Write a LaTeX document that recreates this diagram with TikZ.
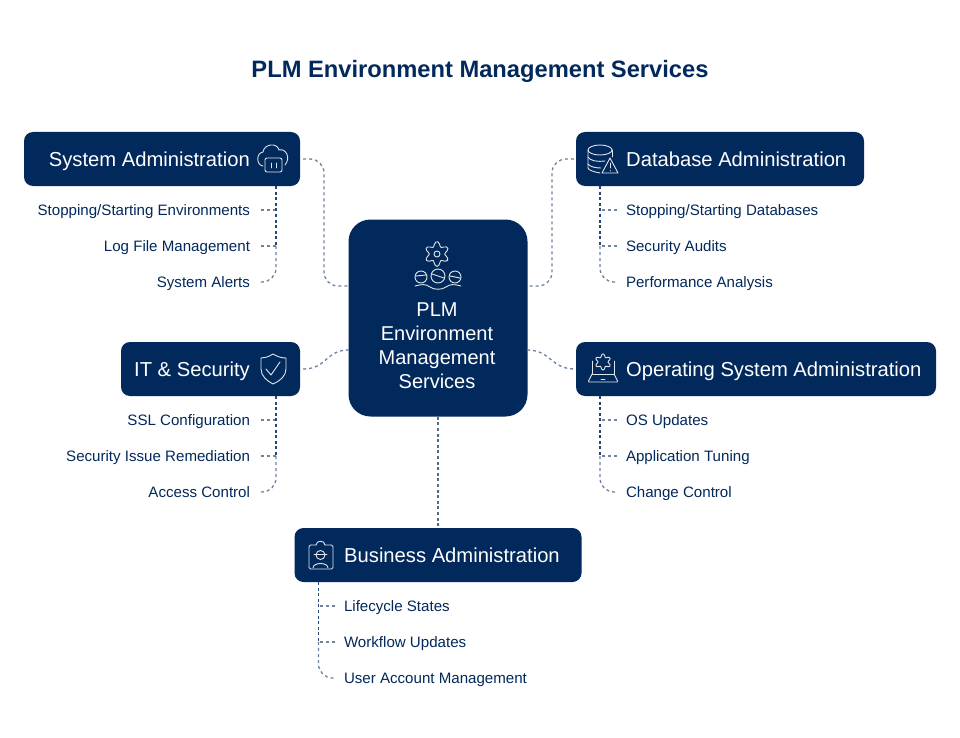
\documentclass[tikz,border=0pt]{standalone}
\usepackage{fontspec}
\setmainfont{Liberation Sans}
\usetikzlibrary{positioning}
\definecolor{navy}{HTML}{02295B}
\definecolor{linkgray}{HTML}{6F83A1}
\definecolor{linkdark}{HTML}{24467A}
\begin{document}
\begin{tikzpicture}[x=1pt, y=-1pt]
\tikzstyle{headbox} = [rectangle, rounded corners=9pt, fill=navy, minimum height=54pt, inner sep=0pt]
\tikzstyle{headlabel} = [text=white, inner sep=0pt, text height=15pt, text depth=0pt, font=\fontsize{20.2}{24}\selectfont]
\tikzstyle{leftitem} = [text=navy, inner xsep=0pt, inner ysep=0pt, outer xsep=10.5pt, outer ysep=0pt, text height=12.5pt, text depth=2.5pt, font=\fontsize{15.1}{18}\selectfont]
\tikzstyle{rightitem} = [leftitem, outer xsep=9pt]
\tikzstyle{link} = [linkgray, line width=1.3pt, dash pattern=on 3pt off 3pt]
\tikzstyle{linkbend} = [link, rounded corners=14pt]
\tikzstyle{drop} = [linkdark, line width=1.5pt, dash pattern=on 3pt off 2.6pt]
\tikzstyle{icon} = [white!88!navy, line width=0.9pt, line join=round, line cap=round]
\useasboundingbox[fill=white] (0,0) rectangle (960,738);
  \node[text=navy, font=\bfseries\fontsize{23.7}{30}\selectfont] (title) at (480,71) {PLM Environment Management Services};

  \node[headbox, minimum width=179pt, rounded corners=22pt, minimum height=197pt] (cntbox) at (438,318) {};
  \node[text=white, align=center, inner sep=0pt, font=\fontsize{20}{24}\selectfont] (cntlabel) at (437,346) {PLM\\Environment\\Management\\Services};
  \coordinate (cntsys) at (349,286);
  \coordinate (cntdb) at (527,286);
  \coordinate (cntit) at (349,350);
  \coordinate (cntos) at (527,350);

  \node[headbox, minimum width=276pt] (sysbox) at (162,159) {};
  \node[headlabel, anchor=east] (syslabel) at (250,159) {System Administration};
  \node[headbox, minimum width=288pt] (dbbox) at (720,159) {};
  \node[headlabel, anchor=west] (dblabel) at (626,159) {Database Administration};
  \node[headbox, minimum width=179pt] (itbox) at (210.5,369) {};
  \node[headlabel, anchor=east] (itlabel) at (250,369) {IT \& Security};
  \node[headbox, minimum width=360pt] (osbox) at (756,369) {};
  \node[headlabel, anchor=west] (oslabel) at (626,369) {Operating System Administration};
  \node[headbox, minimum width=287pt] (busbox) at (438,555) {};
  \node[headlabel, anchor=west] (buslabel) at (344,555) {Business Administration};

  \node[leftitem, anchor=east] (sysstop) at (260.5,210) {Stopping/Starting Environments};
  \node[leftitem, below left=21pt and 0pt of sysstop.south east] (syslog) {Log File Management};
  \node[leftitem, below left=21pt and 0pt of syslog.south east] (sysalert) {System Alerts};
  \node[leftitem, anchor=east] (itssl) at (260.5,420) {SSL Configuration};
  \node[leftitem, below left=21pt and 0pt of itssl.south east] (itissue) {Security Issue Remediation};
  \node[leftitem, below left=21pt and 0pt of itissue.south east] (itaccess) {Access Control};
  \node[rightitem, anchor=west] (dbstop) at (617,210) {Stopping/Starting Databases};
  \node[rightitem, below right=21pt and 0pt of dbstop.south west] (dbaudit) {Security Audits};
  \node[rightitem, below right=21pt and 0pt of dbaudit.south west] (dbperf) {Performance Analysis};
  \node[rightitem, anchor=west] (osupd) at (617,420) {OS Updates};
  \node[rightitem, below right=21pt and 0pt of osupd.south west] (ostune) {Application Tuning};
  \node[rightitem, below right=21pt and 0pt of ostune.south west] (oschange) {Change Control};
  \node[rightitem, anchor=west] (buslife) at (335,606) {Lifecycle States};
  \node[rightitem, below right=21pt and 0pt of buslife.south west] (busflow) {Workflow Updates};
  \node[rightitem, below right=21pt and 0pt of busflow.south west] (bususer) {User Account Management};

  \coordinate (sysbend) at (324,220);
  \coordinate (dbbend) at (552,220);
  \coordinate (sysdrop) at (276,186);
  \coordinate (dbdrop) at (600,186);
  \coordinate (itdrop) at (276,396);
  \coordinate (osdrop) at (600,396);
  \coordinate (busdrop) at (318.5,582);

  \draw[linkbend] ([xshift=3pt]sysbox.east) -| (sysbend) |- (cntsys);
  \draw[linkbend] ([xshift=-2pt]dbbox.west) -| (dbbend) |- (cntdb);
  \draw[link] ([xshift=3pt]itbox.east) .. controls +(24,0) and +(-24,0) .. (cntit);
  \draw[link] (cntos) .. controls +(24,0) and +(-24,0) .. ([xshift=-1pt]osbox.west);
  \draw[drop, linkgray!60!linkdark] (cntbox.south) -- (cntbox.south |- busbox.north);

  \draw[link] (sysstop.east) -- (sysdrop |- sysstop);
  \draw[link] (syslog.east) -- (sysdrop |- syslog);
  \draw[linkbend] (sysdrop |- syslog) |- (sysalert.east);
  \draw[drop] (sysdrop) -- (sysdrop |- syslog);
  \draw[link] (itssl.east) -- (itdrop |- itssl);
  \draw[link] (itissue.east) -- (itdrop |- itissue);
  \draw[linkbend] (itdrop |- itissue) |- (itaccess.east);
  \draw[drop] (itdrop) -- (itdrop |- itissue);
  \draw[link] (dbstop.west) -- (dbdrop |- dbstop);
  \draw[link] (dbaudit.west) -- (dbdrop |- dbaudit);
  \draw[linkbend] (dbdrop |- dbaudit) |- (dbperf.west);
  \draw[drop] (dbdrop) -- (dbdrop |- dbaudit);
  \draw[link] (osupd.west) -- (osdrop |- osupd);
  \draw[link] (ostune.west) -- (osdrop |- ostune);
  \draw[linkbend] (osdrop |- ostune) |- (oschange.west);
  \draw[drop] (osdrop) -- (osdrop |- ostune);
  \draw[link] (buslife.west) -- (busdrop |- buslife);
  \draw[link] (busflow.west) -- (busdrop |- busflow);
  \draw[linkbend] (busdrop |- busflow) |- (bususer.west);
  \draw[drop] (busdrop) -- (busdrop |- busflow);

  \draw[icon] plot[smooth cycle, samples=37, domain=0:350, variable=\t] ({437+(10+2.4*cos(6*\t))*cos(\t+90)},{254+(10+2.4*cos(6*\t))*sin(\t+90)});
  \draw[icon] (437,254) circle (3);
  \draw[icon] (438,276) circle (7) (421,277) circle (6) (455,277) circle (6);
  \draw[icon] (432,274) -- (444,278) (416,276) -- (426,275) (450,276) -- (460,278);
  \draw[icon] (415,286) .. controls (422,284) and (426,284) .. (430,287) .. controls (434,290) and (442,290) .. (446,287) .. controls (450,284) and (454,284) .. (461,286);

  \draw[icon] (263,166) .. controls (256,165) and (256,153) .. (263,152) .. controls (264,144) and (277,142) .. (279,150) .. controls (286,148) and (291,158) .. (285,165);
  \draw[icon, rounded corners=2pt, fill=navy] (265,158) rectangle (282,172);
  \draw[icon, line width=0.6pt] (271,163) -- (271,168) (276,163) -- (276,168);

  \draw[icon] (600,150) ellipse (12 and 5);
  \draw[icon] (588,150) -- (588,168) .. controls (588,170) and (594,172) .. (600,173);
  \draw[icon] (612,150) -- (612,157);
  \draw[icon] (588,157) .. controls (590,161) and (598,162) .. (605,161);
  \draw[icon] (588,164) .. controls (590,167) and (596,168) .. (601,168);
  \draw[icon, fill=navy] (610,158) -- (618,173) -- (602,173) -- cycle;
  \draw[icon] (610,163) -- (610,168) (610,170.5) -- (610,171);

  \draw[icon] (273,354) .. controls (268,357) and (265,358) .. (261,358) -- (261,369) .. controls (261,376) and (267,381) .. (273,384) .. controls (280,381) and (286,376) .. (286,369) -- (286,358) .. controls (282,358) and (278,357) .. (273,354) -- cycle;
  \draw[icon] (266,369) -- (271,375) -- (280,362);

  \draw[icon] plot[smooth cycle, samples=37, domain=0:350, variable=\t] ({603+(6.5+1.6*cos(6*\t))*cos(\t+90)},{362+(6.5+1.6*cos(6*\t))*sin(\t+90)});
  \draw[icon] (592,361) -- (592,374) -- (614,374) -- (614,361);
  \draw[icon, rounded corners=1pt] (592,374) -- (588,382) -- (618,382) -- (614,374);
  \draw[icon] (601,379) -- (605,379);

  \draw[icon, rounded corners=1.5pt] (316,545) -- (309,545) -- (309,569) -- (333,569) -- (333,545) -- (325,545);
  \draw[icon] (316,545) .. controls (316,540) and (325,540) .. (325,545);
  \draw[icon] (320.5,555) circle (4.5);
  \draw[icon] (314,554) -- (327,554);
  \draw[icon] (313,568) .. controls (313,562) and (328,562) .. (328,568);
\end{tikzpicture}
\end{document}
